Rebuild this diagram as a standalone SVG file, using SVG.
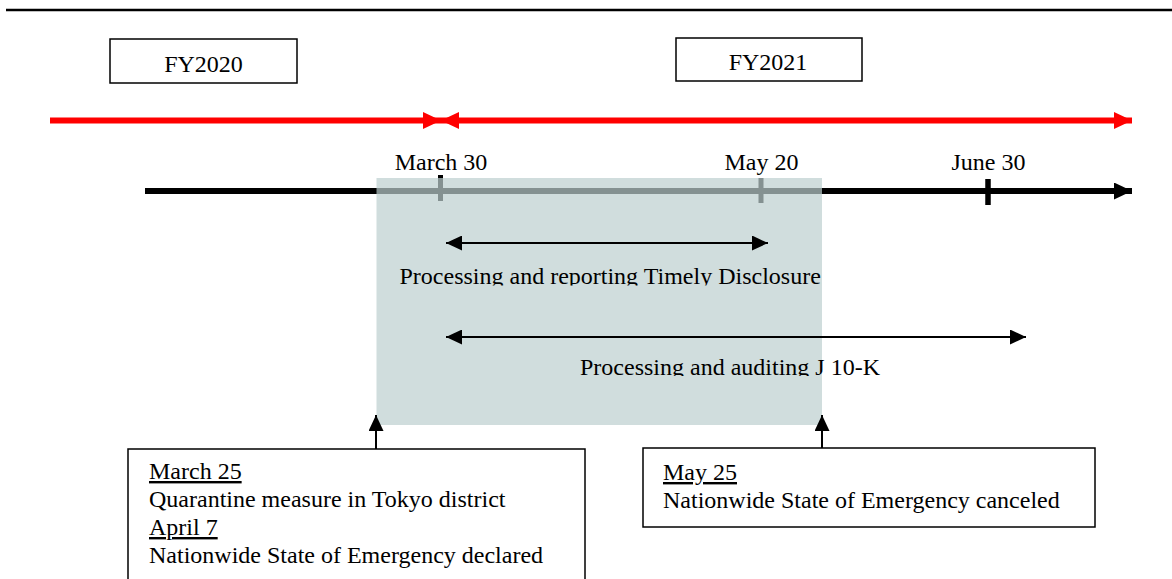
<svg xmlns="http://www.w3.org/2000/svg" width="1172" height="579" viewBox="0 0 1172 579">
<style>
text{font-family:"Liberation Serif","Times New Roman",serif;font-size:24px;fill:#000}
.box{fill:#fff;stroke:#000;stroke-width:1.5}
.u{text-decoration:underline}
</style>
<defs>
<marker id="redR" markerUnits="userSpaceOnUse" markerWidth="20" markerHeight="18" refX="18" refY="8.5" orient="auto"><path d="M0,0 L18,8.5 L0,17 Z" fill="#ff0000"/></marker>
<marker id="redL" markerUnits="userSpaceOnUse" markerWidth="20" markerHeight="18" refX="0" refY="8.5" orient="auto"><path d="M18,0 L0,8.5 L18,17 Z" fill="#ff0000"/></marker>
<marker id="blkR" markerUnits="userSpaceOnUse" markerWidth="20" markerHeight="18" refX="18" refY="8.5" orient="auto"><path d="M0,0 L18,8.5 L0,17 Z" fill="#000"/></marker>
<marker id="thinR" markerUnits="userSpaceOnUse" markerWidth="16" markerHeight="16" refX="16" refY="7.5" orient="auto"><path d="M0,0 L16,7.5 L0,15 Z" fill="#000"/></marker>
<marker id="thinL" markerUnits="userSpaceOnUse" markerWidth="16" markerHeight="16" refX="0" refY="7.5" orient="auto"><path d="M16,0 L0,7.5 L16,15 Z" fill="#000"/></marker>
<clipPath id="c1"><rect x="380" y="250" width="460" height="35.5"/></clipPath>
<clipPath id="c2"><rect x="560" y="345" width="340" height="31"/></clipPath>
</defs>
<line x1="6" y1="10" x2="1172" y2="10" stroke="#000" stroke-width="2.5"/>
<g id="fy2020"><rect class="box" x="110" y="39" width="187" height="44"/><text x="203.5" y="72" text-anchor="middle">FY2020</text></g>
<g id="fy2021"><rect class="box" x="676" y="38" width="186" height="43"/><text x="768" y="70" text-anchor="middle">FY2021</text></g>
<g id="connectors">
<line x1="50" y1="120.5" x2="441" y2="120.5" stroke="#ff0000" stroke-width="6" marker-end="url(#redR)"/>
<line x1="441" y1="120.5" x2="1132" y2="120.5" stroke="#ff0000" stroke-width="6" marker-start="url(#redL)" marker-end="url(#redR)"/>
<line x1="145" y1="191" x2="1132" y2="191" stroke="#000" stroke-width="6" marker-end="url(#blkR)"/>
<line x1="440.5" y1="175" x2="440.5" y2="201" stroke="#000" stroke-width="5"/>
<line x1="761" y1="178" x2="761" y2="203" stroke="#000" stroke-width="5"/>
<line x1="988" y1="179" x2="988" y2="205" stroke="#000" stroke-width="5.5"/>
</g>
<g id="period"><rect x="376.5" y="178" width="445.5" height="247" fill="#bccece" fill-opacity="0.7"/></g>
<g id="labels">
<text x="441" y="170" text-anchor="middle">March 30</text>
<text x="761.5" y="169.5" text-anchor="middle">May 20</text>
<text x="988.5" y="170" text-anchor="middle">June 30</text>
</g>
<g id="arrows">
<line x1="446" y1="243" x2="768" y2="243" stroke="#000" stroke-width="2" marker-start="url(#thinL)" marker-end="url(#thinR)"/>
<line x1="446" y1="337" x2="1026" y2="337" stroke="#000" stroke-width="2" marker-start="url(#thinL)" marker-end="url(#thinR)"/>
<line x1="376" y1="449" x2="376" y2="415" stroke="#000" stroke-width="2" marker-end="url(#thinR)"/>
<line x1="822" y1="448" x2="822" y2="415" stroke="#000" stroke-width="2" marker-end="url(#thinR)"/>
</g>
<g id="timely"><text x="399.5" y="284" clip-path="url(#c1)">Processing and reporting Timely Disclosure</text></g>
<g id="audit"><text x="580" y="375" clip-path="url(#c2)">Processing and auditing J 10-K</text></g>
<g id="event1"><rect class="box" x="128" y="449" width="457" height="140"/>
<text x="149" y="479" class="u">March 25</text>
<text x="149" y="507">Quarantine measure in Tokyo district</text>
<text x="149" y="535" class="u">April 7</text>
<text x="149" y="563">Nationwide State of Emergency declared</text></g>
<g id="event2"><rect class="box" x="643" y="448" width="452" height="79"/>
<text x="663" y="480" class="u">May 25</text>
<text x="663" y="508">Nationwide State of Emergency canceled</text></g>
</svg>
